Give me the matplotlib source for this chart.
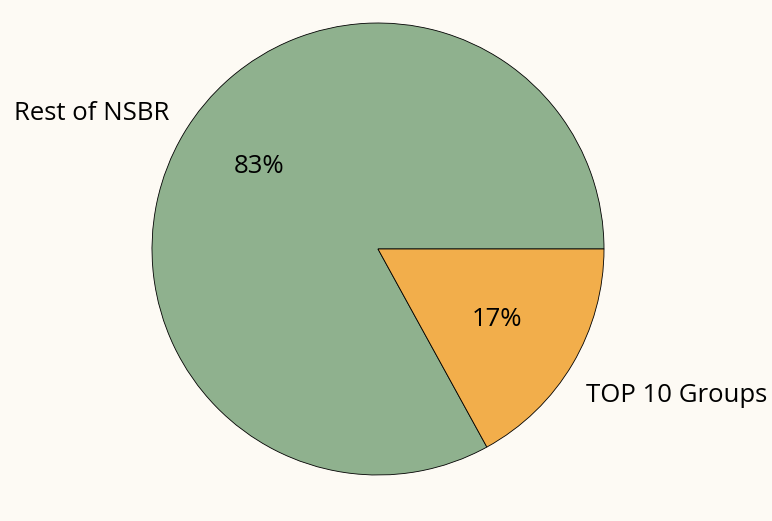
import matplotlib.pyplot as plt

labels = ['Rest of NSBR', 'TOP 10 Groups']
shares = [83, 17]
colors = ['#8FB18E', '#F2AE4B']

W, H = 772, 521
cx, cy, r = 378, 272, 226  # pie centre (from bottom) and radius in pixels
pad = 1.02

fig = plt.figure(figsize=(W / 100, H / 100), dpi=100, facecolor='#FDFAF4')
ax = fig.add_axes([(cx - r * pad) / W, (cy - r * pad) / H, 2 * r * pad / W, 2 * r * pad / H])
ax.set_facecolor('#FDFAF4')

wedges, texts, autotexts = ax.pie(
    shares, labels=labels, colors=colors, startangle=0,
    autopct='%1.0f%%', pctdistance=0.61, labeldistance=1.07,
    wedgeprops={'edgecolor': 'black', 'linewidth': 0.6},
    textprops={'fontsize': 18.5, 'family': 'Open Sans', 'color': 'black'})

# nudge labels vertically to match the original layout
for t, k in zip(texts, [1.1, 1.19]):
    x, y = t.get_position()
    t.set_position((x, y * k))
x, y = autotexts[0].get_position()
autotexts[0].set_position((x, y * 1.17))

ax.set_xlim(-pad, pad)
ax.set_ylim(-pad, pad)
ax.set_aspect('equal')
ax.axis('off')

fig.savefig('out.png', dpi=100, facecolor=fig.get_facecolor())
